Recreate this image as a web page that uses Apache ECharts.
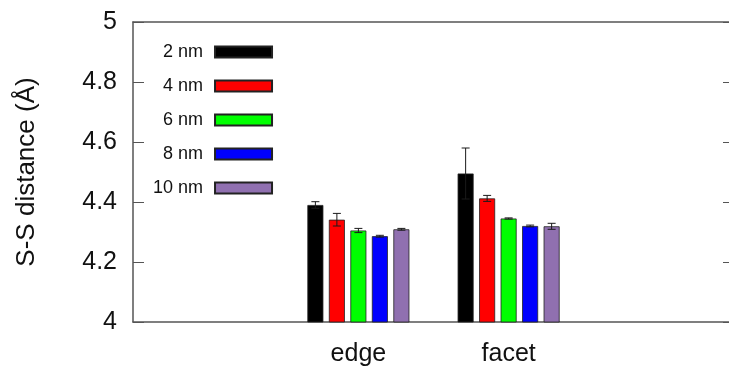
<!DOCTYPE html>
<html><head><meta charset="utf-8">
<script src="https://cdn.jsdelivr.net/npm/echarts@6/dist/echarts.min.js"></script>
<style>html,body{margin:0;padding:0;background:#fff;overflow:hidden}#c{width:740px;height:367px}</style>
</head><body><div id="c"></div>
<script>
const categories = ['', 'edge', 'facet', ''];
const seriesNames = ['2 nm', '4 nm', '6 nm', '8 nm', '10 nm'];
const colors = ['#000000', '#ff0000', '#00ff00', '#0000ff', '#9070b0'];
const edgeValues = [4.39, 4.341, 4.305, 4.286, 4.309];
const facetValues = [4.495, 4.412, 4.345, 4.32, 4.319];
const edgeErrors = [0.011, 0.021, 0.007, 0.003, 0.003];
const facetErrors = [0.085, 0.01, 0.002, 0.003, 0.01];
const yTicks = [4, 4.2, 4.4, 4.6, 4.8, 5];

const FONT = 'Liberation Sans';
const BAR_W = 16, BAR_GAP = 5.5;
const chart = echarts.init(document.getElementById('c'));
const series = [];
seriesNames.forEach((name, i) => {
  series.push({
    name, type: 'bar', barWidth: BAR_W, barGap: (BAR_GAP / BAR_W * 100) + '%',
    itemStyle: { color: colors[i], borderColor: '#222', borderWidth: 0.8 },
    data: ['-', edgeValues[i], facetValues[i], '-'],
    z: 2
  });
});
seriesNames.forEach((name, i) => {
  series.push({
    type: 'custom', name: name + ' err', z: 5, silent: true,
    data: [[1, edgeValues[i] - edgeErrors[i], edgeValues[i] + edgeErrors[i]],
           [2, facetValues[i] - facetErrors[i], facetValues[i] + facetErrors[i]]],
    renderItem: (params, api) => {
      const lo = api.coord([api.value(0), api.value(1)]);
      const hi = api.coord([api.value(0), api.value(2)]);
      const x = lo[0] + (i - 2) * (BAR_W + BAR_GAP);
      const cap = 4;
      const st = { stroke: '#1a1a1a', lineWidth: 1 };
      return { type: 'group', children: [
        { type: 'line', shape: { x1: x, y1: lo[1], x2: x, y2: hi[1] }, style: st },
        { type: 'line', shape: { x1: x - cap, y1: lo[1], x2: x + cap, y2: lo[1] }, style: st },
        { type: 'line', shape: { x1: x - cap, y1: hi[1], x2: x + cap, y2: hi[1] }, style: st }
      ]};
    }
  });
});

chart.setOption({
  animation: false,
  grid: { left: 133, width: 601, top: 22, height: 301, containLabel: false },
  legend: {
    data: seriesNames, orient: 'vertical', left: 148, top: 38, align: 'right',
    itemWidth: 57, itemHeight: 11, itemGap: 16, icon: 'rect',
    formatter: '{a|{name}}',
    textStyle: { fontFamily: FONT, fontSize: 18, color: '#111',
      rich: { a: { width: 47, align: 'right', fontFamily: FONT, fontSize: 18, lineHeight: 16, padding: [0, 7, 0, 0] } } }
  },
  xAxis: [
    { type: 'category', data: categories, position: 'bottom',
      axisLine: { lineStyle: { color: '#555', width: 1.5 } }, axisTick: { show: false },
      axisLabel: { fontFamily: FONT, fontSize: 25, color: '#111', margin: 20, interval: 0 } },
    { type: 'category', data: categories, position: 'top',
      axisLine: { lineStyle: { color: '#555', width: 1.5 } }, axisTick: { show: false }, axisLabel: { show: false } }
  ],
  yAxis: [
    { type: 'value', min: 4, max: 5, interval: 0.2, position: 'left',
      name: 'S-S distance (Å)', nameLocation: 'middle', nameGap: 93, nameRotate: 90,
      nameTextStyle: { fontFamily: FONT, fontSize: 26, color: '#111' },
      axisLine: { show: true, lineStyle: { color: '#555', width: 1.5 } },
      axisTick: { show: true, inside: true, length: 11, lineStyle: { color: '#555', width: 1 } },
      splitLine: { show: false },
      axisLabel: { fontFamily: FONT, fontSize: 25, color: '#111', margin: 16,
        formatter: v => { const t = yTicks.find(k => Math.abs(k - v) < 1e-9); return t === undefined ? '' : String(t); } } },
    { type: 'value', min: 4, max: 5, interval: 0.2, position: 'right',
      axisLine: { show: false },
      axisTick: { show: true, inside: true, length: 11, lineStyle: { color: '#555', width: 1 } },
      splitLine: { show: false }, axisLabel: { show: false } }
  ],
  series
});
</script></body></html>
